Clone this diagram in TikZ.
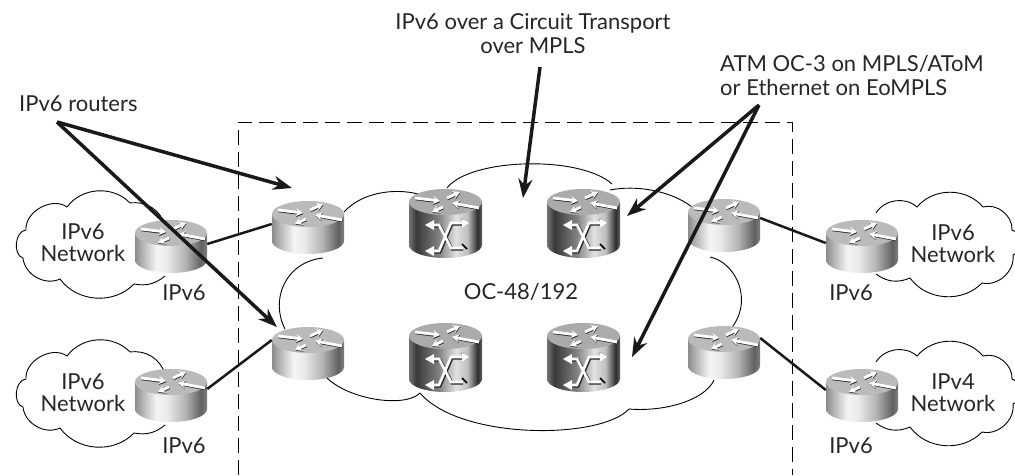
\documentclass[tikz,border=0pt]{standalone}
\usepackage{fontspec}
\setmainfont{Lato}
\usetikzlibrary{arrows.meta}
\pgfdeclarehorizontalshading{rbody}{100bp}{color(0bp)=(black!45);color(25bp)=(black!45);color(33bp)=(black!22);color(40bp)=(black!4);color(47bp)=(black!8);color(60bp)=(black!30);color(71bp)=(black!62);color(75bp)=(black!50);color(100bp)=(black!50)}
\pgfdeclarehorizontalshading{cbody}{100bp}{color(0bp)=(black!55);color(25bp)=(black!55);color(30bp)=(black!78);color(45bp)=(black!50);color(57bp)=(black!12);color(65bp)=(black!25);color(72bp)=(black!82);color(75bp)=(black!62);color(100bp)=(black!62)}
\tikzset{
  x=1pt,y=-1pt,
  lbl/.style={font=\fontsize{22}{24}\selectfont,text=black!85,inner sep=0pt,align=center},
  lblleft/.style={lbl,anchor=west,align=left},
  cloudline/.style={draw=black,line width=0.9pt},
  link/.style={draw=black!90,line width=2.5pt},
  callout/.style={draw=black!90,line width=3.5pt,-{Stealth[length=19pt,width=14pt]}},
  boundary/.style={draw=black,line width=1pt,dash pattern=on 15pt off 7pt},
  devbox/.style={inner sep=0pt,minimum width=72pt,minimum height=53pt},
  icona/.style={white,line width=2.8pt,-{Stealth[length=7pt,width=8pt]}},
  iconb/.style={black!85,line width=2.8pt,-{Stealth[length=7pt,width=8pt]}},
  toparrows/.pic={
    \draw[iconb] (6.4,9.8) -- (31.4,13);
    \draw[iconb] (70.4,19.8) -- (43.4,14.8);
    \draw[iconb] (38.4,9.8) -- (51.4,3.8);
    \draw[iconb] (34.4,18.8) -- (23.4,23.8);
    \draw[icona] (6,9) -- (31,12);
    \draw[icona] (70,19) -- (43,14);
    \draw[icona] (38,9) -- (51,3);
    \draw[icona] (34,18) -- (23,23);
  },
  routerpic/.pic={
    \shade[shading=rbody] (0,13) -- (0,40) .. controls (0,47.2) and (16.1,53) .. (36,53) .. controls (55.9,53) and (72,47.2) .. (72,40) -- (72,13) -- cycle;
    \fill[black!27] (0,13) .. controls (0,5.8) and (16.1,0) .. (36,0) .. controls (55.9,0) and (72,5.8) .. (72,13) .. controls (72,20.2) and (55.9,26) .. (36,26) .. controls (16.1,26) and (0,20.2) .. (0,13) -- cycle;
    \pic {toparrows};
  },
  corepic/.pic={
    \shade[shading=cbody] (0,13) -- (0,56) .. controls (0,63.2) and (16.1,69) .. (36,69) .. controls (55.9,69) and (73,63.2) .. (73,56) -- (73,13) -- cycle;
    \fill[black!33] (0,13) .. controls (0,5.8) and (16.1,0) .. (36,0) .. controls (55.9,0) and (73,5.8) .. (73,13) .. controls (73,20.2) and (55.9,26) .. (36,26) .. controls (16.1,26) and (0,20.2) .. (0,13) -- cycle;
    \pic {toparrows};
    \draw[black,line width=1.5pt] (53,30) -- (58,35);
    \draw[black,line width=1.5pt] (53,55) -- (58,60);
    \draw[black!85,line width=3pt] (25,37) -- (31,37) -- (43,60) -- (54,60);
    \draw[black!85,line width=3pt] (25,63) -- (31,63) -- (43,35) -- (54,35);
    \draw[white,line width=2.6pt] (25,36) -- (30,36) -- (42,59) -- (54,59);
    \draw[white,line width=2.6pt] (25,62) -- (30,62) -- (42,34) -- (54,34);
    \fill[white] (16,36) -- (25,31) -- (25,41) -- cycle;
    \fill[white] (16,62) -- (25,57) -- (25,67) -- cycle;
    \fill[white] (60,34) -- (53,29.5) -- (53,38.5) -- cycle;
  },
  cloudshape/.pic={
    \draw[cloudline] (165,276) to[bend left=25] (134,284) to[bend left=50] (60,279) to[bend left=55] (23,258) to[bend left=80] (26,230) to[bend left=65] (67,207) to[bend left=50] (130,203) to[bend left=40] (165,225);
  },
  cloudright/.pic={
    \draw[cloudline] (876,213) to[bend left=50] (917,207) to[bend left=50] (983,207) to[bend left=55] (1012,230) to[bend left=75] (1013,255) to[bend left=55] (982,283) to[bend left=50] (910,278) to[bend left=30] (876,274);
  }
}
\begin{document}
\begin{tikzpicture}
\useasboundingbox (0,0) rectangle (1015,475);
% boundary
\draw[boundary] (238,475) -- (238,122) -- (792,122) -- (792,475);
% main cloud
\draw[cloudline] (344,212) .. controls (362,192) and (395,188) .. (418,194);
\draw[cloudline] (447,188) .. controls (470,158) and (580,155) .. (612,184);
\draw[cloudline] (610,190) .. controls (635,185) and (670,190) .. (692,207);
\draw[cloudline] (710,257) .. controls (735,262) and (755,300) .. (730,330);
\draw[cloudline] (714,380) .. controls (705,400) and (665,412) .. (629,409);
\draw[cloudline] (629,409) .. controls (600,440) and (460,440) .. (420,393);
\draw[cloudline] (420,393) .. controls (405,408) and (350,400) .. (327,378);
\draw[cloudline] (285,329) .. controls (270,300) and (285,262) .. (323,258);
% side clouds
\pic at (0,0) {cloudshape};
\pic at (0,149) {cloudshape};
\pic at (0,0) {cloudright};
\pic at (0,149) {cloudright};
% devices
\pic at (135,220) {routerpic};
\pic at (135,369) {routerpic};
\pic at (272,201) {routerpic};
\pic at (272,327) {routerpic};
\pic at (688,199) {routerpic};
\pic at (688,326) {routerpic};
\pic at (826,220) {routerpic};
\pic at (826,369) {routerpic};
\pic at (409,189) {corepic};
\pic at (547,189) {corepic};
\pic at (409,323) {corepic};
\pic at (547,323) {corepic};
\node[devbox] (oul) at (171,246.5) {};
\node[devbox] (oll) at (171,395.5) {};
\node[devbox] (eul) at (308,227.5) {};
\node[devbox] (ell) at (308,353.5) {};
\node[devbox] (eur) at (724,225.5) {};
\node[devbox] (elr) at (724,352.5) {};
\node[devbox] (our) at (862,246.5) {};
\node[devbox] (olr) at (862,395.5) {};
% links
\draw[link] ([yshift=2.5pt]oul.east) -- ([yshift=3.5pt]eul.west);
\draw[link] ([yshift=6.5pt]oll.east) -- ([yshift=13.5pt]ell.west);
\draw[link] ([yshift=7.5pt]eur.east) -- ([yshift=3.5pt]our.west);
\draw[link] ([yshift=14.5pt]elr.east) -- ([yshift=5.5pt]olr.west);
% labels
\node[lbl] (t1) at (533,34) {IPv6 over a Circuit Transport\\[0pt]over MPLS};
\node[lblleft] (t2) at (720,75) {ATM OC-3 on MPLS/AToM\\[0pt]or Ethernet on EoMPLS};
\node[lblleft] (t3) at (19,104) {IPv6 routers};
\node[lbl] (t4) at (521,292) {OC-48/192};
\node[lbl] (n1) at (83,243) {IPv6\\[-2pt]Network};
\node[lbl] (n2) at (83,393) {IPv6\\[-2pt]Network};
\node[lbl] (n3) at (953,244) {IPv6\\[-2pt]Network};
\node[lbl] (n4) at (953,393) {IPv4\\[-2pt]Network};
\node[lbl] (v1) at (184,293) {IPv6};
\node[lbl] (v2) at (184,446) {IPv6};
\node[lbl] (v3) at (851,293) {IPv6};
\node[lbl] (v4) at (851,446) {IPv6};
% callouts
\coordinate (ca) at (57,122);
\coordinate (cb) at (540,67);
\coordinate (cc) at (759,105);
\coordinate (ta) at (292,188);
\coordinate (tb) at (277,327);
\coordinate (td) at (523,198);
\coordinate (te) at (627,216);
\coordinate (tf) at (632,357);
\draw[callout] (ca) -- (ta);
\draw[callout] (ca) -- (tb);
\draw[callout] (cb) -- (td);
\draw[callout] (cc) -- (te);
\draw[callout] (cc) -- (tf);
\end{tikzpicture}
\end{document}
